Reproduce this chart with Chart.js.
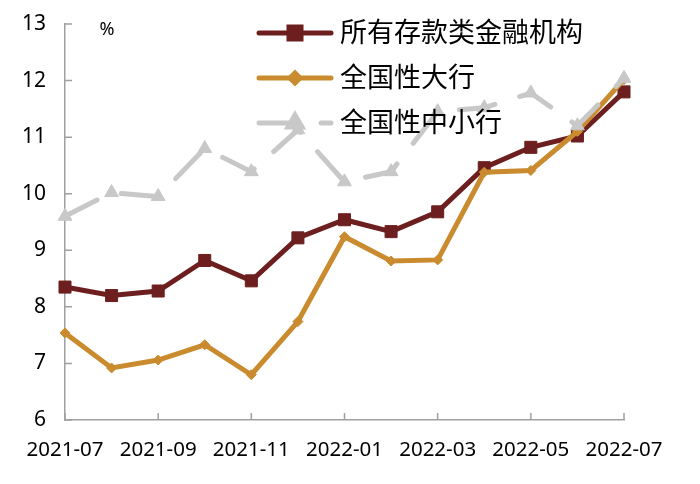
<!DOCTYPE html>
<html>
<head>
<meta charset="utf-8">
<script src="https://cdn.jsdelivr.net/npm/chart.js@4/dist/chart.umd.min.js"></script>
<style>
  html, body { margin: 0; padding: 0; background: #fff; }
</style>
</head>
<body>
<canvas id="myChart" width="700" height="484"></canvas>
<script>
const months = ['2021-07', '2021-08', '2021-09', '2021-10', '2021-11', '2021-12',
  '2022-01', '2022-02', '2022-03', '2022-04', '2022-05', '2022-06', '2022-07'];
const seriesNames = ['所有存款类金融机构', '全国性大行', '全国性中小行'];
const allInst = [8.35, 8.2, 8.28, 8.82, 8.46, 9.22, 9.54, 9.33, 9.68, 10.46, 10.82, 11.02, 11.8];
const bigBanks = [7.54, 6.92, 7.06, 7.33, 6.8, 7.74, 9.24, 8.81, 8.83, 10.38, 10.41, 11.1, 12.02];
const smallBanks = [9.6, 10.02, 9.95, 10.8, 10.39, 11.13, 10.21, 10.39, 11.45, 11.52, 11.78, 11.2, 12.04];
const yMin = 6, yMax = 13;

const fontFamily = "'Noto Sans', 'Noto Sans CJK SC', sans-serif";
const axisGray = '#a0a0a0';

// short tick marks pointing into the plot, like the original
const innerTicks = {
  id: 'innerTicks',
  beforeDatasetsDraw(chart) {
    const { ctx, chartArea, scales } = chart;
    ctx.save();
    ctx.strokeStyle = axisGray;
    ctx.lineWidth = 1.5;
    ctx.beginPath();
    scales.y.ticks.forEach((t, i) => {
      const y = scales.y.getPixelForTick(i);
      ctx.moveTo(chartArea.left, y);
      ctx.lineTo(chartArea.left + 7, y);
    });
    months.forEach((m, i) => {
      if (i % 2 !== 0) return;
      const x = scales.x.getPixelForValue(i);
      ctx.moveTo(x, chartArea.bottom);
      ctx.lineTo(x, chartArea.bottom - 7);
    });
    ctx.stroke();
    ctx.restore();
  }
};

// legend inside the plot + the "%" unit
const innerLegend = {
  id: 'innerLegend',
  afterDraw(chart) {
    const { ctx } = chart;
    ctx.save();
    chart.data.datasets.forEach((ds, i) => {
      const y = 33 + i * 45;
      ctx.strokeStyle = ds.borderColor;
      ctx.lineWidth = ds.borderWidth;
      ctx.lineCap = 'round';
      ctx.setLineDash(ds.borderDash || []);
      ctx.beginPath();
      ctx.moveTo(259, y);
      ctx.lineTo(331, y);
      ctx.stroke();
      ctx.setLineDash([]);
      ctx.fillStyle = ds.pointBackgroundColor;
      ctx.strokeStyle = ds.pointBackgroundColor;
      Chart.helpers.drawPoint(ctx, {
        pointStyle: ds.pointStyle,
        radius: ds.pointRadius,
        rotation: 0,
        borderWidth: 1
      }, 295, y);
      ctx.fillStyle = '#000';
      ctx.font = '27px ' + fontFamily;
      ctx.textBaseline = 'middle';
      ctx.textAlign = 'left';
      ctx.fillText(ds.label, 340, y + 1);
    });
    ctx.font = '18px ' + fontFamily;
    ctx.fillStyle = '#000';
    ctx.textAlign = 'center';
    ctx.textBaseline = 'middle';
    ctx.fillText('%', 107, 30);
    ctx.restore();
  }
};

const ctx = document.getElementById('myChart').getContext('2d');
new Chart(ctx, {
  type: 'line',
  data: {
    labels: months,
    datasets: [{
      label: seriesNames[0],
      data: allInst,
      borderColor: '#6d1f1f',
      backgroundColor: '#6d1f1f',
      pointBackgroundColor: '#6d1f1f',
      pointBorderColor: '#6d1f1f',
      borderWidth: 5,
      pointStyle: 'rect',
      pointRadius: 8.5,
      pointBorderWidth: 1,
      order: 3
    }, {
      label: seriesNames[1],
      data: bigBanks,
      borderColor: '#c98b2e',
      backgroundColor: '#c98b2e',
      pointBackgroundColor: '#c98b2e',
      pointBorderColor: '#c98b2e',
      borderWidth: 5,
      pointStyle: 'rectRot',
      pointRadius: 5,
      pointBorderWidth: 1,
      order: 2
    }, {
      label: seriesNames[2],
      data: smallBanks,
      borderColor: '#c8c8c8',
      backgroundColor: '#c8c8c8',
      pointBackgroundColor: '#c8c8c8',
      pointBorderColor: '#c8c8c8',
      borderWidth: 5,
      borderDash: [36, 26],
      borderCapStyle: 'round',
      pointStyle: 'triangle',
      pointRadius: 8,
      pointBorderWidth: 1,
      order: 1
    }]
  },
  options: {
    responsive: false,
    animation: false,
    clip: false,
    layout: {
      autoPadding: false,
      padding: { top: 24, right: 76, left: 0, bottom: 0 }
    },
    plugins: {
      legend: { display: false },
      tooltip: { enabled: false }
    },
    scales: {
      x: {
        type: 'category',
        offset: false,
        grid: { display: false, drawTicks: false },
        border: { display: true, color: axisGray, width: 1.5 },
        afterFit(scale) { scale.height = 64; },
        ticks: {
          autoSkip: false,
          maxRotation: 0,
          padding: 18,
          color: '#000',
          font: { size: 20.5, family: fontFamily },
          callback(value, index) {
            return index % 2 === 0 ? months[index] : '';
          }
        }
      },
      y: {
        min: yMin,
        max: yMax,
        grid: { display: false, drawTicks: false },
        border: { display: true, color: axisGray, width: 1.5 },
        afterFit(scale) {
          scale.width = 65;
          scale.paddingTop = 12;
          scale.paddingBottom = 12;
        },
        ticks: {
          stepSize: 1,
          padding: 19,
          color: '#000',
          font: { size: 21, family: fontFamily }
        }
      }
    }
  },
  plugins: [innerTicks, innerLegend]
});
</script>
</body>
</html>
